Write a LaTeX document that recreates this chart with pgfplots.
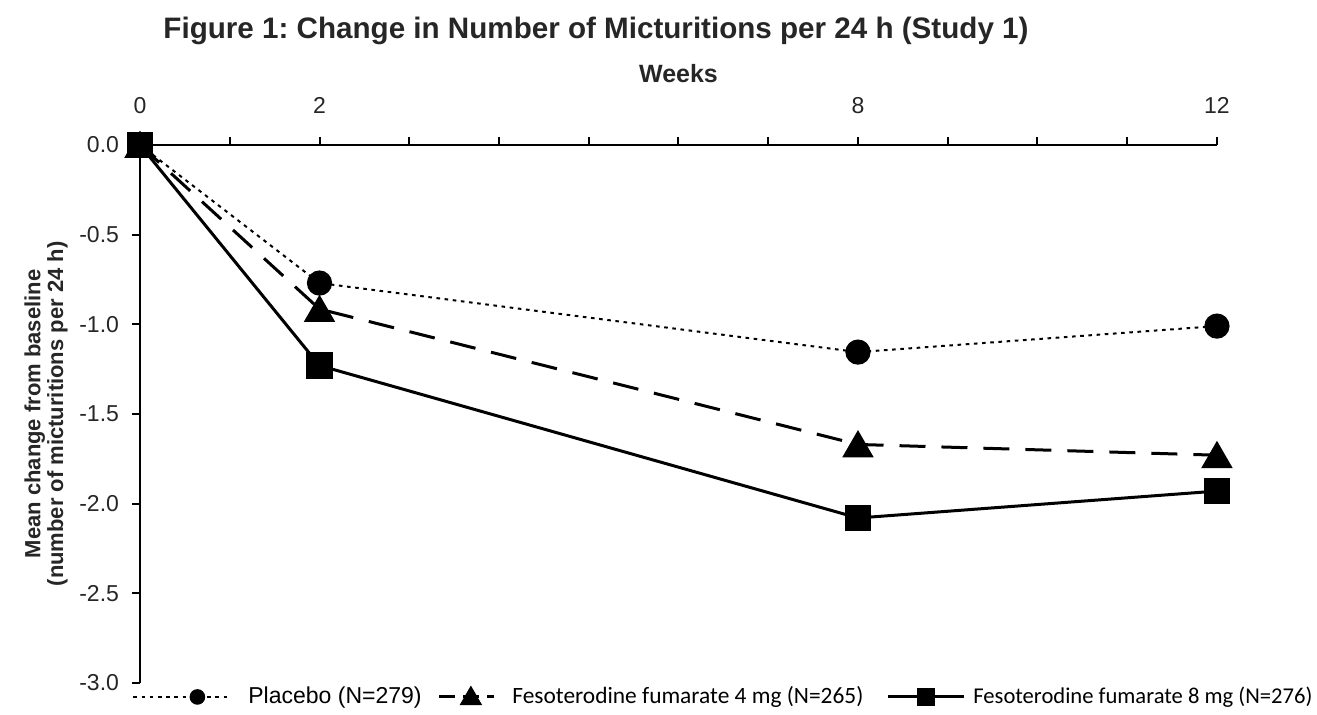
\documentclass[border=0pt]{standalone}
\usepackage{pgfplots}
\pgfplotsset{compat=1.18}
\usepackage{fontspec}
\setmainfont{Liberation Sans}
\newfontfamily\legfont{Carlito}
\frenchspacing
\pgfplotsset{
  legA/.style={legend image code/.code={\draw[##1] (0pt,0pt) -- (48.5pt,0pt); \draw[##1, mark size=3.4pt] plot coordinates {(32pt,0pt)};}},
  legB/.style={legend image code/.code={\draw[##1, dash pattern=on 8pt off 4pt] (0pt,0pt) -- (27.5pt,0pt); \draw[##1, mark size=5pt, mark options={solid, yshift=-0.8pt}] plot coordinates {(16pt,0pt)};}},
  legC/.style={legend image code/.code={\draw[##1] (0pt,0pt) -- (38pt,0pt); \draw[##1, mark size=3.7pt] plot coordinates {(19pt,0pt)};}},
}
\begin{document}
\begin{tikzpicture}
\begin{axis}[
  scale only axis, width=538.5pt, height=269pt,
  xmin=0, xmax=12, ymin=-3, ymax=0,
  axis x line=top, axis y line=left,
  axis line style={-, line width=1pt, black},
  xtick={0,1,...,12},
  xticklabels={0,,2,,,,,,8,,,,12},
  ytick={-3,-2.5,-2,-1.5,-1,-0.5,0},
  yticklabels={-3.0,-2.5,-2.0,-1.5,-1.0,-0.5,0.0},
  tick align=outside, major tick length=4pt,
  tick style={line width=1pt, black},
  ticklabel style={font=\fontsize{11.5}{13}\selectfont, text=black!85},
  xticklabel style={anchor=base, yshift=11.5pt},
  yticklabel style={anchor=east, xshift=-3pt},
  clip=false,
  legend style={draw=none, fill=none, at={(-0.013,-0.026)}, anchor=west,
    legend columns=-1, nodes={inner sep=0pt}, column sep=0pt,
    /tikz/column 1/.style={column sep=8.5pt},
    /tikz/column 2/.style={column sep=7pt},
    /tikz/column 3/.style={column sep=8.5pt},
    /tikz/column 4/.style={column sep=5.5pt},
    /tikz/column 5/.style={column sep=4pt}},
]
\addplot[black, line width=1pt, dash pattern=on 1.8pt off 2.3pt,
  mark=*, mark size=5.8pt, mark options={solid}, legA]
  coordinates {(0,0) (2,-0.77) (8,-1.155) (12,-1.01)};
\addlegendentry{\makebox[87.5pt][l]{\fontsize{11.5}{13}\selectfont Placebo (N=279)}}
\addplot[black, line width=1.5pt, dash pattern=on 13pt off 8pt,
  mark=triangle*, mark size=7.6pt, mark options={solid, yshift=-1.9pt}, legB]
  coordinates {(0,0) (2,-0.915) (8,-1.67) (12,-1.73)};
\addlegendentry{\makebox[181.5pt][l]{\legfont\fontsize{11.7}{13}\selectfont Fesoterodine fumarate 4 mg (N=265)}}
\addplot[black, line width=1.5pt,
  mark=square*, mark size=5.8pt, legC]
  coordinates {(0,0) (2,-1.23) (8,-2.08) (12,-1.93)};
\addlegendentry{\legfont\fontsize{11.3}{13}\selectfont Fesoterodine fumarate 8 mg (N=276)}
\node[anchor=base, font=\bfseries\fontsize{14.8}{16}\selectfont, text=black!85] at (rel axis cs:0.4234,1) [yshift=53pt] {Figure 1: Change in Number of Micturitions per 24 h (Study 1)};
\node[anchor=base, font=\bfseries\fontsize{12.5}{14}\selectfont, text=black!85] at (rel axis cs:0.5,1) [yshift=31pt] {Weeks};
\node[rotate=90, align=center, font=\bfseries\fontsize{11}{10}\selectfont, text=black!85] at ([xshift=-47pt]rel axis cs:0,0.5) {Mean change from baseline\\(number of micturitions per 24 h)};
\coordinate (bl) at (rel axis cs:-0.130,-0.0595);
\coordinate (tr) at (rel axis cs:1.0929,1.2695);
\end{axis}
\pgfresetboundingbox
\path[use as bounding box] (bl) rectangle (tr);
\end{tikzpicture}
\end{document}
